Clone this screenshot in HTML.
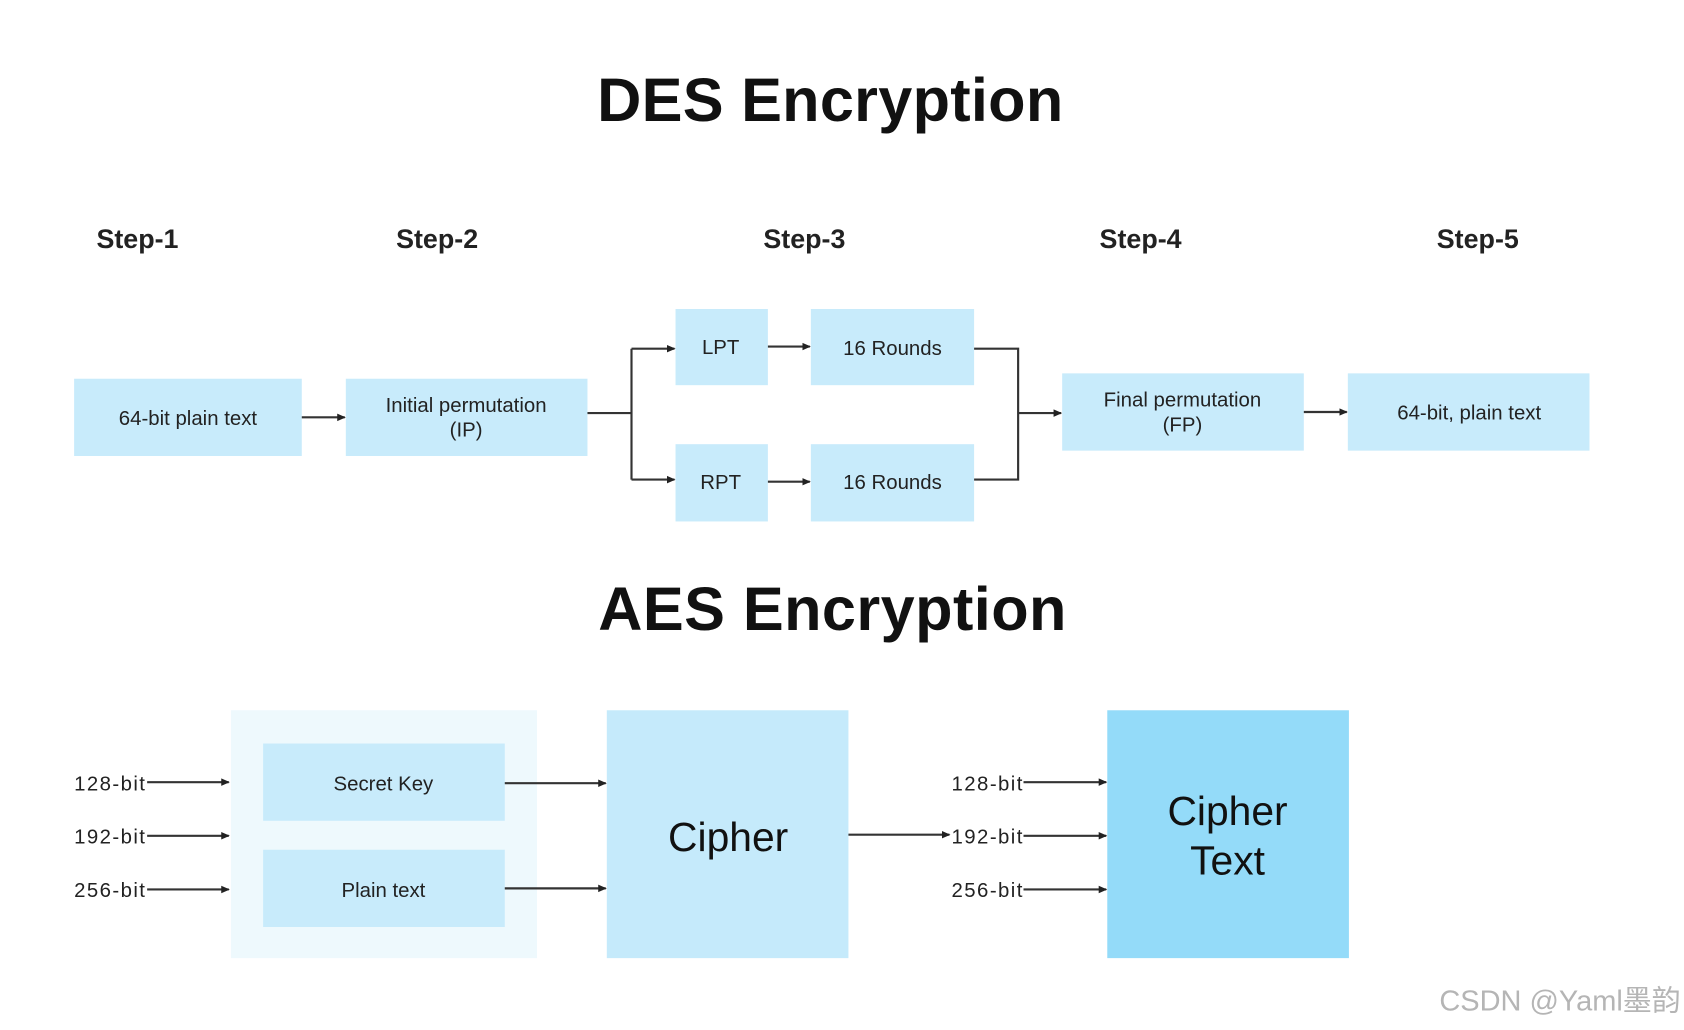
<!DOCTYPE html>
<html><head><meta charset="utf-8"><style>
html,body{margin:0;padding:0;background:#fff;}
svg{display:block;}
text{font-family:"Liberation Sans","DejaVu Sans",sans-serif;}
</style></head><body>
<svg width="1684" height="1030" viewBox="0 0 1568 960" preserveAspectRatio="none" xmlns="http://www.w3.org/2000/svg">
<defs>
<marker id="a" markerWidth="8" markerHeight="8" refX="7" refY="4" orient="auto" markerUnits="userSpaceOnUse">
<path d="M0,0.5 L8,4 L0,7.5 Z" fill="#222"/></marker>
</defs>
<rect width="1568" height="960" fill="#fff"/>
<text x="773" y="113" font-size="57" font-weight="bold" text-anchor="middle" fill="#111" textLength="434">DES Encryption</text>
<g font-size="25" font-weight="bold" fill="#222" text-anchor="middle">
<text x="128" y="231">Step-1</text><text x="407" y="231">Step-2</text><text x="749" y="231">Step-3</text><text x="1062" y="231">Step-4</text><text x="1376" y="231">Step-5</text>
</g>
<g fill="#c8ebfb">
<rect x="69" y="353" width="212" height="72"/>
<rect x="322" y="353" width="225" height="72"/>
<rect x="629" y="288" width="86" height="71"/>
<rect x="755" y="288" width="152" height="71"/>
<rect x="629" y="414" width="86" height="72"/>
<rect x="755" y="414" width="152" height="72"/>
<rect x="989" y="348" width="225" height="72"/>
<rect x="1255" y="348" width="225" height="72"/>
</g>
<g font-size="19" fill="#222" text-anchor="middle">
<text x="175" y="396">64-bit plain text</text>
<text x="434" y="384">Initial permutation</text><text x="434" y="407">(IP)</text>
<text x="671" y="330">LPT</text>
<text x="831" y="331">16 Rounds</text>
<text x="671" y="456">RPT</text>
<text x="831" y="456">16 Rounds</text>
<text x="1101" y="379">Final permutation</text><text x="1101" y="402">(FP)</text>
<text x="1368" y="391">64-bit, plain text</text>
</g>
<g stroke="#333" stroke-width="2" fill="none">
<line x1="281" y1="389" x2="321" y2="389" marker-end="url(#a)"/>
<polyline points="547,385 588,385"/>
<line x1="588" y1="325" x2="588" y2="447"/>
<line x1="588" y1="325" x2="628" y2="325" marker-end="url(#a)"/>
<line x1="588" y1="447" x2="628" y2="447" marker-end="url(#a)"/>
<line x1="715" y1="323" x2="754" y2="323" marker-end="url(#a)"/>
<line x1="715" y1="449" x2="754" y2="449" marker-end="url(#a)"/>
<polyline points="907,325 948,325 948,447 907,447"/>
<line x1="948" y1="385" x2="988" y2="385" marker-end="url(#a)"/>
<line x1="1214" y1="384" x2="1254" y2="384" marker-end="url(#a)"/>
</g>
<text x="775" y="587" font-size="57" font-weight="bold" text-anchor="middle" fill="#111" textLength="436">AES Encryption</text>
<rect x="215" y="662" width="285" height="231" fill="#eef9fd"/>
<rect x="245" y="693" width="225" height="72" fill="#c8ebfb"/>
<rect x="245" y="792" width="225" height="72" fill="#c8ebfb"/>
<rect x="565" y="662" width="225" height="231" fill="#c5eafb"/>
<rect x="1031" y="662" width="225" height="231" fill="#94dbf9"/>
<g font-size="19" fill="#222">
<text x="357" y="737" text-anchor="middle">Secret Key</text>
<text x="357" y="836" text-anchor="middle">Plain text</text>
<text x="69" y="737" textLength="66">128-bit</text><text x="69" y="786" textLength="66">192-bit</text><text x="69" y="836" textLength="66">256-bit</text>
<text x="886" y="737" textLength="66">128-bit</text><text x="886" y="786" textLength="66">192-bit</text><text x="886" y="836" textLength="66">256-bit</text>
</g>
<text x="678" y="793" font-size="38" text-anchor="middle" fill="#111">Cipher</text>
<text x="1143" y="769" font-size="38" text-anchor="middle" fill="#111">Cipher</text>
<text x="1143" y="815" font-size="38" text-anchor="middle" fill="#111">Text</text>
<g stroke="#333" stroke-width="2">
<line x1="137" y1="729" x2="213" y2="729" marker-end="url(#a)"/>
<line x1="137" y1="779" x2="213" y2="779" marker-end="url(#a)"/>
<line x1="137" y1="829" x2="213" y2="829" marker-end="url(#a)"/>
<line x1="470" y1="730" x2="564" y2="730" marker-end="url(#a)"/>
<line x1="470" y1="828" x2="564" y2="828" marker-end="url(#a)"/>
<line x1="790" y1="778" x2="884" y2="778" marker-end="url(#a)"/>
<line x1="953" y1="729" x2="1030" y2="729" marker-end="url(#a)"/>
<line x1="953" y1="779" x2="1030" y2="779" marker-end="url(#a)"/>
<line x1="953" y1="829" x2="1030" y2="829" marker-end="url(#a)"/>
</g>
<text x="1565" y="942" font-size="27" text-anchor="end" fill="#b5b5b5" style="font-family:'Liberation Sans','Noto Sans CJK SC',sans-serif">CSDN @Yaml墨韵</text>
</svg>
</body></html>
